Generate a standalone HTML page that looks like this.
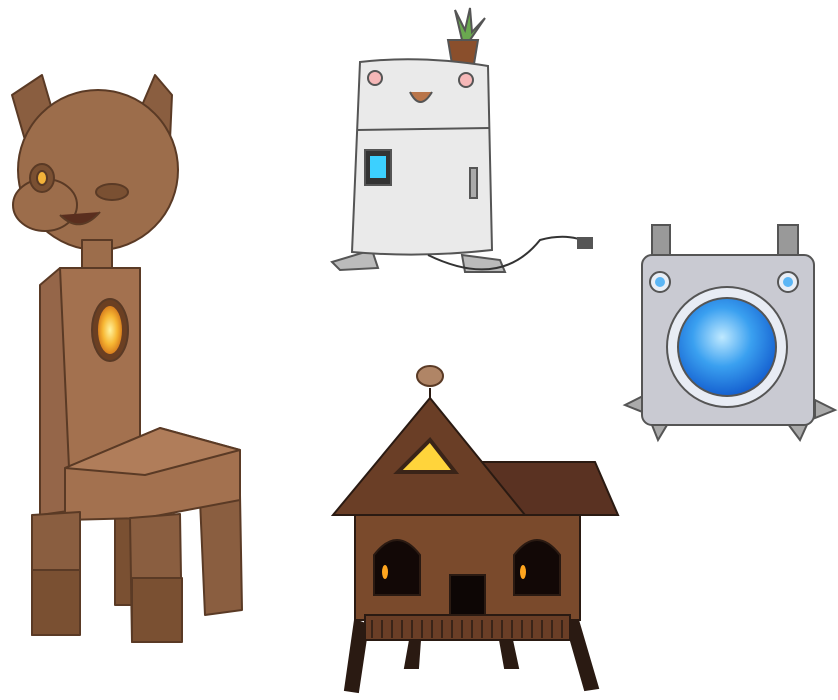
<!DOCTYPE html>
<html><head><meta charset="utf-8"><style>
html,body{margin:0;padding:0;background:#fff;width:838px;height:700px;overflow:hidden}
</style></head><body>
<svg width="838" height="700" viewBox="0 0 838 700" xmlns="http://www.w3.org/2000/svg">
<defs>
<radialGradient id="glow" cx="50%" cy="50%" r="50%"><stop offset="0" stop-color="#fff3a0"/><stop offset="0.6" stop-color="#f7b733"/><stop offset="1" stop-color="#d9801e"/></radialGradient>
<radialGradient id="blue" cx="45%" cy="40%" r="60%"><stop offset="0" stop-color="#bfe9ff"/><stop offset="0.5" stop-color="#3aa0f0"/><stop offset="1" stop-color="#1560d0"/></radialGradient>
</defs>
<!-- CHAIR DOG -->
<g stroke="#5a3a25" stroke-width="2" stroke-linejoin="round">
<path d="M12 95 L42 75 L58 130 L25 140 Z" fill="#8a5e40"/>
<path d="M140 110 L155 75 L172 95 L170 140 L145 148 Z" fill="#8a5e40"/>
<circle cx="98" cy="170" r="80" fill="#9c6d4b"/>
<ellipse cx="45" cy="205" rx="32" ry="26" fill="#9c6d4b"/>
<ellipse cx="42" cy="178" rx="12" ry="14" fill="#7a5032"/>
<ellipse cx="42" cy="178" rx="5" ry="7" fill="#f4b33a"/>
<ellipse cx="112" cy="192" rx="16" ry="8" fill="#7a5032"/>
<path d="M60 215 Q80 235 100 212" fill="#5a2e1e"/>
<rect x="82" y="240" width="30" height="40" fill="#9c6d4b"/>
<path d="M40 285 L60 268 L140 268 L140 470 L75 510 L40 515 Z" fill="#956649"/>
<path d="M60 268 L140 268 L140 470 L70 490 Z" fill="#a3714f"/>
<ellipse cx="110" cy="330" rx="18" ry="31" fill="#6b3f22"/>
<ellipse cx="110" cy="330" rx="12" ry="24" fill="url(#glow)" stroke="none"/>
<path d="M200 500 L240 495 L242 610 L205 615 Z" fill="#8a5e40"/>
<path d="M115 510 L145 510 L145 605 L115 605 Z" fill="#7a5032"/>
<path d="M65 468 L160 428 L240 450 L240 500 L145 518 L65 520 Z" fill="#a3714f"/>
<path d="M65 468 L160 428 L240 450 L145 475 Z" fill="#b07d5a"/>
<path d="M32 515 L80 512 L80 632 L32 635 Z" fill="#8a5e40"/>
<path d="M130 518 L180 514 L182 640 L132 642 Z" fill="#8a5e40"/>
<rect x="32" y="570" width="48" height="65" fill="#7a5032"/>
<rect x="132" y="578" width="50" height="64" fill="#7a5032"/>
</g>
<!-- FRIDGE -->
<g stroke="#555" stroke-width="2">
<path d="M448 40 L478 40 L474 64 L452 64 Z" fill="#8a4f2c"/>
<path d="M462 40 L455 10 L465 30 L470 8 L472 32 L485 18 L470 40 Z" fill="#6aa84f"/>
<path d="M332 262 L372 250 L378 268 L340 270 Z" fill="#bbb"/>
<path d="M462 255 L500 260 L505 272 L465 272 Z" fill="#bbb"/>
<path d="M360 62 Q420 55 488 66 L492 250 Q420 258 352 252 Z" fill="#eaeaea"/>
<path d="M357 130 L490 128" fill="none"/>
<circle cx="375" cy="78" r="7" fill="#f6b8b8"/><circle cx="466" cy="80" r="7" fill="#f6b8b8"/>
<path d="M410 92 Q420 112 432 92" fill="#b9754a"/>
<rect x="365" y="150" width="26" height="35" fill="#333"/>
<rect x="370" y="156" width="16" height="22" fill="#3cd0ff" stroke="none"/>
<rect x="470" y="168" width="7" height="30" fill="#aaa"/>
<path d="M428 255 Q500 290 540 240 Q570 232 590 244" fill="none" stroke="#333"/>
<rect x="578" y="238" width="14" height="10" fill="#555"/>
</g>
<!-- WASHER -->
<g stroke="#555" stroke-width="2">
<rect x="652" y="225" width="18" height="35" fill="#999"/>
<rect x="778" y="225" width="20" height="35" fill="#999"/>
<path d="M625 405 L645 395 L650 415 Z" fill="#aaa"/>
<path d="M815 400 L835 410 L815 418 Z" fill="#aaa"/>
<path d="M648 415 L670 420 L658 440 Z" fill="#aaa"/>
<path d="M785 420 L810 418 L800 440 Z" fill="#aaa"/>
<rect x="642" y="255" width="172" height="170" rx="10" fill="#c9cad2"/>
<circle cx="660" cy="282" r="10" fill="#e8eef6"/><circle cx="660" cy="282" r="5" fill="#5bb6f5" stroke="none"/>
<circle cx="788" cy="282" r="10" fill="#e8eef6"/><circle cx="788" cy="282" r="5" fill="#5bb6f5" stroke="none"/>
<circle cx="727" cy="347" r="60" fill="#e8ecf4"/>
<circle cx="727" cy="347" r="49" fill="url(#blue)"/>
</g>
<!-- HOUSE -->
<g stroke="#2a1a12" stroke-width="2">
<path d="M355 620 L345 690 L358 692 L368 625 Z" fill="#2a1a12"/>
<path d="M565 620 L585 690 L598 688 L578 620 Z" fill="#2a1a12"/>
<path d="M410 640 L405 668 L418 668 L420 640 Z" fill="#2a1a12"/>
<path d="M500 640 L505 668 L518 668 L512 640 Z" fill="#2a1a12"/>
<rect x="355" y="505" width="225" height="115" fill="#7a4a2c"/>
<path d="M480 462 L595 462 L618 515 L470 515 Z" fill="#5a3222"/>
<path d="M430 398 L525 515 L333 515 Z" fill="#6a3e26"/>
<path d="M398 472 L430 440 L455 472 Z" fill="#ffd43b" stroke="#3a2418" stroke-width="4"/>
<path d="M374 595 L374 555 Q397 525 420 555 L420 595 Z" fill="#120806"/>
<path d="M514 595 L514 555 Q537 525 560 555 L560 595 Z" fill="#120806"/>
<ellipse cx="385" cy="572" rx="3" ry="7" fill="#ffa51e" stroke="none"/>
<ellipse cx="523" cy="572" rx="3" ry="7" fill="#ffa51e" stroke="none"/>
<rect x="450" y="575" width="35" height="40" fill="#0d0605"/>
<rect x="365" y="615" width="205" height="25" fill="#6a3e26"/>
<path d="M372 620 V638 M382 620 V638 M392 620 V638 M402 620 V638 M412 620 V638 M422 620 V638 M432 620 V638 M442 620 V638 M452 620 V638 M462 620 V638 M472 620 V638 M482 620 V638 M492 620 V638 M502 620 V638 M512 620 V638 M522 620 V638 M532 620 V638 M542 620 V638 M552 620 V638 M562 620 V638" stroke="#3a2418" stroke-width="2"/>
<path d="M430 398 L430 388" fill="none"/>
<ellipse cx="430" cy="376" rx="13" ry="10" fill="#b08566" stroke="#5a3a25"/>
</g>
</svg>
</body></html>
